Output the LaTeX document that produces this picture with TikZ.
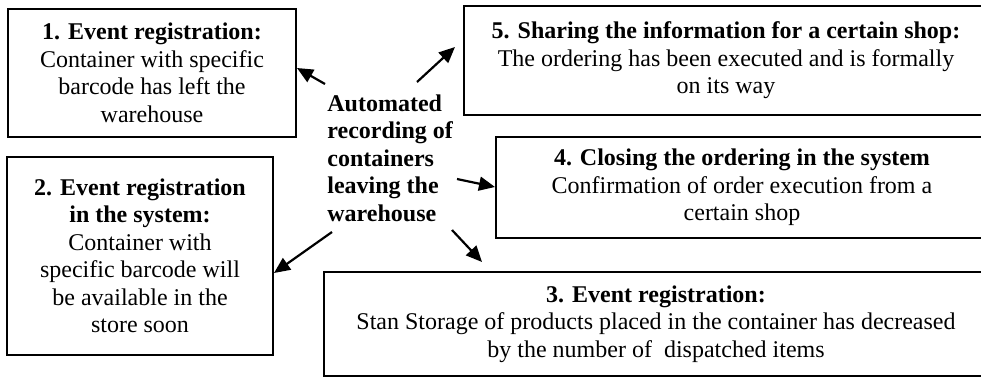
\documentclass[tikz,border=0pt]{standalone}
\usepackage{fontspec}
\setmainfont{Liberation Serif}
\usetikzlibrary{arrows.meta}
\begin{document}
\begin{tikzpicture}[x=0.5pt,y=-0.5pt,
  box/.style={draw,line width=1pt,align=center,inner sep=0pt,font=\fontsize{12}{13.75}\selectfont},
  arr/.style={line width=1.1pt,-{Triangle[length=8pt,width=7pt]}}]
\useasboundingbox (0,0) rectangle (981,377);
\node[box,minimum width=144pt,minimum height=64pt] (b1) at (152,73)
  {\textbf{1. Event registration:}\\Container with specific\\barcode has left the\\warehouse};
\node[box,minimum width=133pt,minimum height=99pt] (b2) at (140,256)
  {\textbf{2. Event registration}\\\textbf{in the system:}\\Container with\\specific barcode will\\be available in the\\store soon};
\node[box,minimum width=262pt,minimum height=54.5pt] (b5) at (726,60.5)
  {\textbf{5. Sharing the information for a certain shop:}\\The ordering has been executed and is formally\\on its way};
\node[box,minimum width=246pt,minimum height=50.5pt] (b4) at (742,187.5)
  {\textbf{4. Closing the ordering in the system}\\Confirmation of order execution from a\\certain shop};
\node[box,minimum width=332pt,minimum height=52pt] (b3) at (656,324)
  {\textbf{3. Event registration:}\\Stan Storage of products placed in the container has decreased\\by the number of \ dispatched items};
\node[font=\bfseries\fontsize{12}{13.75}\selectfont,align=left,anchor=west,inner sep=0pt] (c) at (327,158)
  {Automated\\recording of\\containers\\leaving the\\warehouse};
\coordinate (s1) at (325,84);  \coordinate (t1) at (297,68);
\coordinate (s5) at (417,82);  \coordinate (t5) at (455,47);
\coordinate (s4) at (457,179); \coordinate (t4) at (495,187);
\coordinate (s3) at (452,230); \coordinate (t3) at (482,262);
\coordinate (s2) at (332,232); \coordinate (t2) at (274,273);
\draw[arr] (s1) -- (t1);
\draw[arr] (s5) -- (t5);
\draw[arr] (s4) -- (t4);
\draw[arr] (s3) -- (t3);
\draw[arr] (s2) -- (t2);
\end{tikzpicture}
\end{document}
